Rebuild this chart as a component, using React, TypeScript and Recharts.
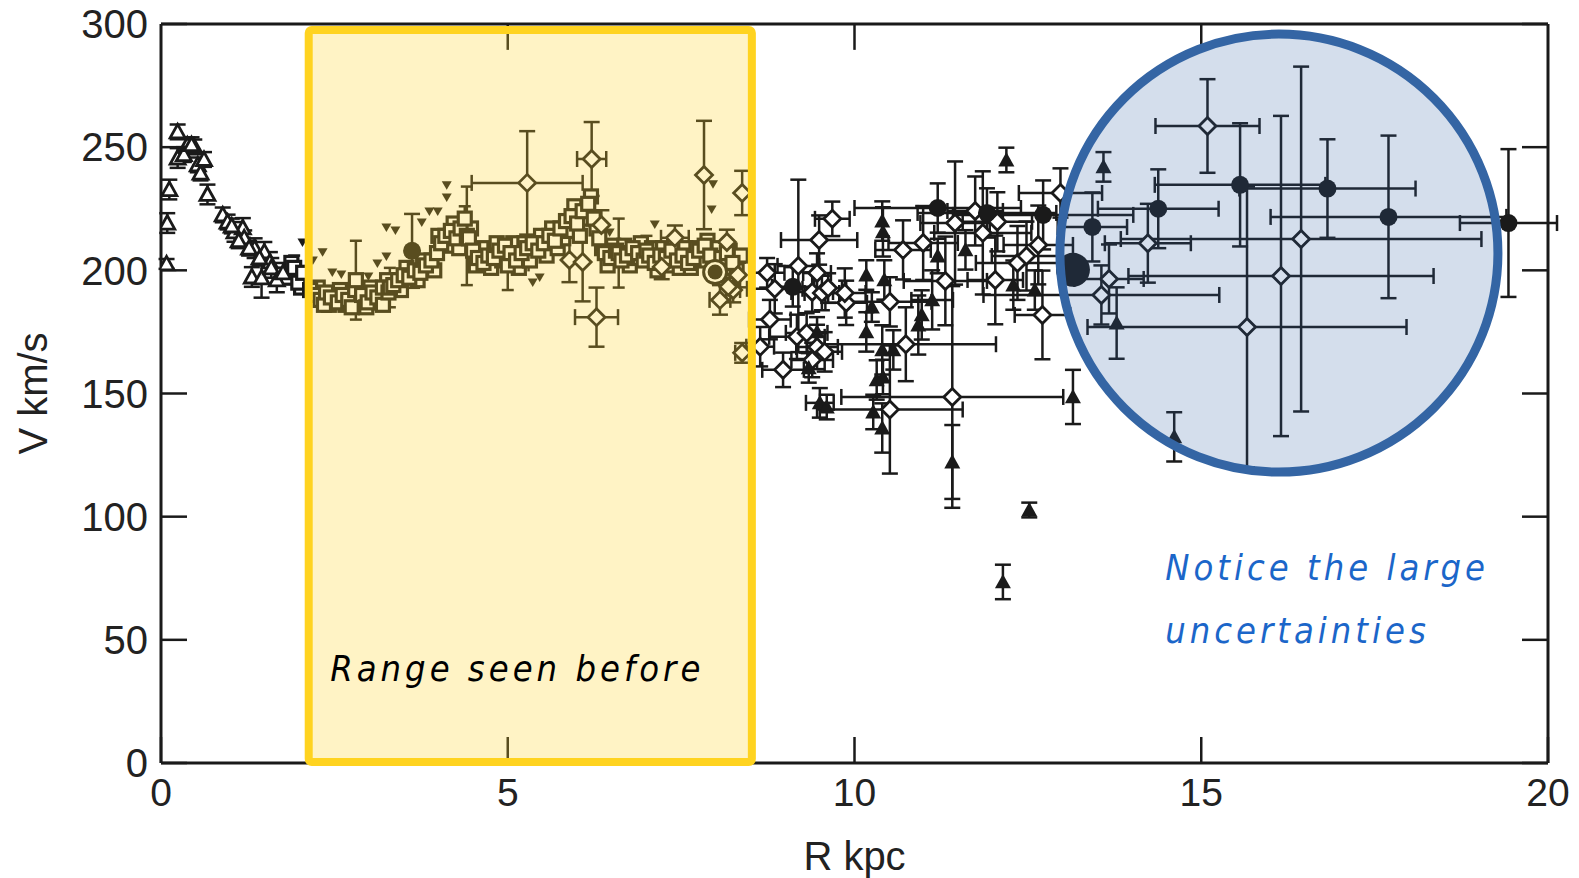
import React from "react";
import {
  ScatterChart,
  Scatter,
  XAxis,
  YAxis,
  ErrorBar,
  ReferenceArea,
  ReferenceDot,
  ReferenceLine,
} from "recharts";

// each point: [R kpc, V km/s, x error, y error]
type Pt = [number, number, number?, number?];

const X_TICKS = [0, 5, 10, 15, 20];
const Y_TICKS = [0, 50, 100, 150, 200, 250, 300];

// inner HI terminal velocities (open triangles)
const innerTriangles: Pt[] = [
  [0.24, 256.2, 0, 3], [0.38, 250.9, 0, 3], [0.48, 250.1, 0, 3], [0.24, 245.6, 0, 4],
  [0.53, 242.8, 0, 3], [0.57, 239.5, 0, 3], [0.12, 232.8, 0, 4], [0.67, 230.8, 0, 4],
  [0.09, 219.2, 0, 4], [0.89, 222.5, 0, 3], [0.96, 219.6, 0, 3], [1.06, 215.6, 0, 4],
  [1.18, 217.2, 0, 4], [1.2, 213.2, 0, 3], [1.35, 209, 0, 4], [1.49, 207.5, 0, 4],
  [1.57, 203.4, 0, 4], [1.31, 197.3, 0, 4], [1.45, 196.9, 0, 8], [1.59, 201, 0, 4],
  [1.67, 196.1, 0, 5], [0.08, 202.6, 0, 2], [0.33, 247, 0, 3], [0.44, 251, 0, 3],
  [0.62, 245, 0, 3], [1.02, 218, 0, 3], [1.12, 212, 0, 3], [1.27, 209, 0, 3],
  [1.42, 205, 0, 3], [1.76, 199, 0, 4],
];

// CO / HII disk points (open squares), main row
const squares: Pt[] = [
  [1.83, 197], [1.92, 201, 0, 5], [1.98, 195], [2.05, 199], [2.15, 192], [2.22, 190],
  [2.3, 188], [2.35, 186], [2.38, 191], [2.45, 189], [2.55, 187], [2.62, 190], [2.7, 188],
  [2.75, 185], [2.8, 192], [2.81, 196, 0, 16], [2.9, 190], [2.96, 185], [2.98, 187],
  [3.05, 191], [3.12, 189], [3.2, 193], [3.2, 186], [3.28, 191], [3.3, 193, 0, 8],
  [3.35, 194], [3.42, 196], [3.5, 198], [3.58, 197], [3.66, 200], [3.74, 199], [3.82, 202],
  [3.9, 204], [3.98, 207], [4.04, 211], [4.1, 214], [4.18, 216], [4.26, 213], [4.32, 217],
  [4.38, 221, 0, 5], [4.41, 214, 0, 20], [4.44, 213], [4.5, 208], [4.57, 205], [4.65, 203],
  [4.72, 206], [4.8, 205], [4.88, 208], [4.96, 210], [5.0, 202, 0.3, 10], [5.04, 207],
  [5.12, 204], [5.2, 207], [5.28, 209], [5.36, 211], [5.44, 208], [5.52, 211], [5.6, 214],
  [5.68, 212], [5.76, 217], [5.84, 220], [5.92, 222], [6.0, 219], [6.08, 224], [6.16, 227],
  [6.24, 221], [6.32, 213], [6.4, 207], [6.48, 205], [6.56, 208], [6.6, 207, 0, 14],
  [6.64, 204], [6.72, 206], [6.8, 209], [6.88, 207], [6.96, 204], [7.0, 208, 0.2, 6],
  [7.04, 206], [7.12, 203], [7.2, 206], [7.28, 205], [7.36, 208], [7.44, 204], [7.52, 206],
  [7.6, 203], [7.68, 205], [7.76, 208], [7.84, 210], [7.92, 206], [8.08, 205], [8.16, 207],
  [8.24, 203],
];

// open squares, scattered second row around the main one
const squaresSpread: Pt[] = [
  [1.88, 203], [2.02, 193], [2.26, 193], [2.42, 186], [2.58, 192], [2.66, 186], [2.86, 188],
  [3.02, 193], [3.16, 187], [3.26, 196], [3.46, 192], [3.54, 201], [3.7, 196], [3.78, 204],
  [3.94, 200], [4.0, 214], [4.14, 210], [4.22, 219], [4.3, 209], [4.47, 217], [4.54, 202],
  [4.62, 209], [4.76, 201], [4.84, 211], [4.92, 204], [5.08, 211], [5.16, 201], [5.24, 211],
  [5.32, 204], [5.48, 214], [5.56, 206], [5.64, 217], [5.72, 209], [5.8, 213], [5.88, 216],
  [5.96, 226], [6.04, 214], [6.12, 221], [6.2, 230], [6.28, 217], [6.36, 209], [6.44, 202],
  [6.52, 210], [6.68, 210], [6.76, 202], [6.84, 205], [6.92, 211], [7.08, 209], [7.16, 200],
  [7.24, 209], [7.32, 202], [7.4, 210], [7.48, 201], [7.56, 209], [7.64, 201], [7.72, 209],
  [7.8, 204], [7.88, 212], [7.96, 203], [8.04, 209], [8.12, 201], [8.2, 208], [8.3, 200],
  [8.36, 206],
];

// small filled inverted triangles
const downTriangles: Pt[] = [
  [2.04, 211.5], [2.19, 204.2], [2.33, 207.5], [2.47, 199.3], [2.6, 198.5], [2.99, 197.7],
  [3.12, 203], [3.25, 205.8], [3.25, 217.6], [3.38, 216.4], [3.76, 219.6], [3.87, 224.1],
  [3.99, 224.1], [4.12, 234.7], [4.12, 229.8], [5.36, 195.3], [5.46, 197.3], [6.47, 215.6],
  [7.12, 218.8], [7.94, 224.9], [7.96, 235.1],
];

// open diamonds with x/y errors
const diamonds: Pt[] = [
  [5.28, 235.5, 0.8, 21], [6.21, 245.2, 0.21, 15], [7.83, 238.7, 0, 22], [8.38, 231.4, 0, 9],
  [6.28, 181, 0.31, 12], [5.89, 204.2, 0, 9], [6.08, 203.4, 0, 16], [6.35, 218.4, 0, 6],
  [7.41, 213.2, 0.2, 5], [7.22, 201.4, 0, 5], [8.16, 211.5, 0, 5], [8.06, 188, 0.15, 6],
  [8.25, 192, 0.1, 5], [8.32, 198.1, 0, 5], [8.18, 193.3], [8.38, 166.5, 0.1, 4],
  [8.74, 199, 0.25, 6], [8.85, 192.5, 0.4, 10], [8.78, 180, 0.3, 8], [8.97, 159.6, 0.3, 7],
  [9.19, 201.8, 0.3, 35], [9.46, 198.9, 0.2, 8], [9.49, 212.3, 0.55, 10], [9.68, 220.9, 0.25, 7],
  [9.39, 191.2, 0.3, 8], [9.53, 190.8, 0.25, 7], [9.62, 192.8, 0.2, 6], [9.88, 186.8, 0.3, 9],
  [9.86, 190.8, 0.3, 10], [9.17, 173, 0.4, 9], [9.31, 174.6, 0.3, 8], [9.46, 168.9, 0.3, 9],
  [9.57, 166.9, 0.25, 8], [9.39, 163.6, 0.3, 7], [8.64, 169, 0.2, 8], [10.51, 187.2, 0.6, 10],
  [10.74, 170, 1.3, 15], [10.7, 208.3, 0.4, 12], [10.99, 211.1, 0.5, 15], [11.31, 195.7, 0.6, 18],
  [11.45, 219.2, 0.5, 25], [11.74, 224.1, 0.4, 14], [11.85, 215.2, 0.7, 25], [12.06, 219.7, 0.5, 12],
  [12.03, 196.1, 0.4, 18], [12.35, 203, 0.6, 15], [12.48, 205.8, 0.5, 14], [12.65, 210.3, 0.5, 16],
  [12.71, 181.9, 0.4, 18], [12.97, 231.4, 0.6, 10], [11.41, 148.6, 1.6, 45], [10.51, 143.5, 1.05, 26],
  [15.09, 258.6, 0.75, 19], [16.44, 212.7, 2.6, 70], [16.15, 197.7, 2.2, 65], [15.66, 177, 2.3, 57],
  [14.23, 211, 0.62, 16], [13.67, 196.5, 0.5, 14], [13.56, 190, 1.7, 12],
];

// filled triangles
const filledTriangles: Pt[] = [
  [10.41, 215.6, 0, 10], [10.43, 196.1, 0, 8], [10.17, 198.1, 0, 6], [11.12, 188, 0.3, 12],
  [10.97, 181.9, 0, 10], [10.92, 177.8, 0, 12], [11.6, 208.3, 0, 8], [11.2, 205.8, 0, 7],
  [12.29, 194, 0, 10], [12.6, 192, 0, 8], [10.17, 175, 0, 8], [10.4, 167.7, 0, 10],
  [10.56, 167.7, 0, 8], [9.34, 160.4, 0, 6], [9.46, 175, 0, 6], [9.5, 146.2, 0.2, 6],
  [9.6, 144.5, 0, 5], [10.32, 155.5, 0, 8], [10.41, 156.7, 0, 7], [10.27, 142.5, 0, 7],
  [10.4, 136, 0, 10], [13.15, 148.6, 0, 11], [12.19, 244.8, 0, 5], [13.59, 242, 0, 6],
  [13.78, 178.6, 0, 14.5], [14.61, 132.4, 0, 10], [12.52, 102.7, 0, 3], [12.14, 73.5, 0, 7],
  [11.41, 122.2, 0, 15], [10.25, 185.1, 0, 6], [10.4, 220, 0, 8],
];

// filled circles
const filledCircles: Pt[] = [
  [3.62, 207.9, 0, 15], [9.11, 193.3, 0.3, 8], [11.2, 225.3, 1.2, 10], [11.91, 223.3, 1.0, 10],
  [12.72, 222.5, 1.3, 14], [13.43, 217.6, 0.5, 14], [14.38, 225, 0.87, 16], [15.56, 234.7, 1.23, 25],
  [16.82, 233.2, 1.27, 20], [17.7, 221.7, 1.7, 33], [19.43, 219.2, 0.7, 30],
];

const bigCircle: Pt[] = [[13.15, 200.2]];
const sun: Pt[] = [[7.99, 199.3]];

const toRows = (pts: Pt[]) =>
  pts.map(([x, y, ex, ey]) => ({ x, y, ex: ex || undefined, ey: ey || undefined }));

const INK = "#1a1a1a";
const FONT = "'Liberation Sans', Arial, sans-serif";
const HAND = "'DejaVu Sans Condensed', 'DejaVu Sans', sans-serif";
const TICK_LEN = 10.5; // inward tick length along the top frame, in km/s

function OpenTriangle(p: any) {
  const { cx, cy } = p;
  const s = 7.5;
  return (
    <polygon
      points={`${cx},${cy - s} ${cx + s},${cy + s * 0.8} ${cx - s},${cy + s * 0.8}`}
      fill="#fff"
      stroke={INK}
      strokeWidth={2.8}
    />
  );
}

function OpenSquare(p: any) {
  const { cx, cy } = p;
  return <rect x={cx - 6.5} y={cy - 6.5} width={13} height={13} fill="#fff" stroke={INK} strokeWidth={3.2} />;
}

function DownTriangle(p: any) {
  const { cx, cy } = p;
  const s = 5;
  return <polygon points={`${cx - s},${cy - s * 0.7} ${cx + s},${cy - s * 0.7} ${cx},${cy + s}`} fill={INK} />;
}

function OpenDiamond(p: any) {
  const { cx, cy } = p;
  const s = 8.5;
  return (
    <polygon
      points={`${cx},${cy - s} ${cx + s},${cy} ${cx},${cy + s} ${cx - s},${cy}`}
      fill="#fff"
      stroke={INK}
      strokeWidth={2.8}
    />
  );
}

function FilledTriangle(p: any) {
  const { cx, cy } = p;
  const s = 8;
  return <polygon points={`${cx},${cy - s} ${cx + s},${cy + s * 0.8} ${cx - s},${cy + s * 0.8}`} fill={INK} />;
}

function FilledCircle(p: any) {
  return <circle cx={p.cx} cy={p.cy} r={9} fill={INK} />;
}

function BigCircle(p: any) {
  return <circle cx={p.cx} cy={p.cy} r={17} fill={INK} />;
}

function SunMark(p: any) {
  return (
    <g>
      <circle cx={p.cx} cy={p.cy} r={13} fill={INK} />
      <circle cx={p.cx} cy={p.cy} r={10} fill="#fff" />
      <circle cx={p.cx} cy={p.cy} r={7.5} fill={INK} />
    </g>
  );
}

const NoTick = () => null;

const errX = (w = 8) => (
  <ErrorBar dataKey="ex" direction="x" width={w} stroke={INK} strokeWidth={2.5} />
);
const errY = (w = 8) => (
  <ErrorBar dataKey="ey" direction="y" width={w} stroke={INK} strokeWidth={2.5} />
);

const handLabel = (value: string, color: string) => ({
  value,
  position: "right" as const,
  offset: 0,
  fontSize: 36,
  fill: color,
  fontFamily: HAND,
  fontStyle: "italic",
  style: { letterSpacing: "4px" },
});

export default function App() {
  return (
    <div style={{ position: "fixed", left: 0, top: 0, width: 1579, height: 878, background: "#fff" }}>
      <ScatterChart width={1579} height={878} margin={{ top: 23, right: 30, bottom: 5, left: 0 }}>
        <XAxis
          type="number"
          dataKey="x"
          domain={[0, 20]}
          allowDataOverflow
          ticks={X_TICKS}
          height={110}
          tickSize={-26}
          tickMargin={41}
          axisLine={{ stroke: INK, strokeWidth: 3 }}
          tickLine={{ stroke: INK, strokeWidth: 2.5 }}
          tick={{ fontSize: 39, fill: "#222", fontFamily: FONT }}
          label={{ value: "R kpc", position: "insideBottom", offset: 3, fontSize: 40, fill: "#222", fontFamily: FONT }}
        />
        <XAxis
          xAxisId="top"
          orientation="top"
          type="number"
          domain={[0, 20]}
          allowDataOverflow
          ticks={X_TICKS}
          height={1}
          tickLine={false}
          tick={NoTick}
          axisLine={{ stroke: INK, strokeWidth: 3 }}
        />
        <YAxis
          type="number"
          dataKey="y"
          domain={[0, 300]}
          allowDataOverflow
          ticks={Y_TICKS}
          width={161}
          tickSize={-26}
          tickMargin={39}
          axisLine={{ stroke: INK, strokeWidth: 3 }}
          tickLine={{ stroke: INK, strokeWidth: 2.5 }}
          tick={{ fontSize: 40, fill: "#222", fontFamily: FONT }}
          label={{
            value: "V km/s",
            angle: -90,
            position: "insideLeft",
            offset: 33,
            fontSize: 40,
            fill: "#222",
            fontFamily: FONT,
            style: { textAnchor: "middle" },
          }}
        />
        <YAxis
          yAxisId="right"
          orientation="right"
          type="number"
          domain={[0, 300]}
          allowDataOverflow
          ticks={Y_TICKS}
          width={1}
          tickSize={-26}
          tick={NoTick}
          axisLine={{ stroke: INK, strokeWidth: 3 }}
          tickLine={{ stroke: INK, strokeWidth: 2.5 }}
        />

        {X_TICKS.slice(1, -1).map((t) => (
          <ReferenceLine
            key={t}
            segment={[{ x: t, y: 300 }, { x: t, y: 300 - TICK_LEN }]}
            stroke={INK}
            strokeWidth={2.5}
            ifOverflow="visible"
          />
        ))}

        <Scatter data={toRows(squaresSpread)} shape={OpenSquare} isAnimationActive={false} />
        <Scatter data={toRows(squares)} shape={OpenSquare} isAnimationActive={false}>
          {errX(6)}
          {errY(6)}
        </Scatter>
        <Scatter data={toRows(innerTriangles)} shape={OpenTriangle} isAnimationActive={false}>
          {errY(8)}
        </Scatter>
        <Scatter data={toRows(downTriangles)} shape={DownTriangle} isAnimationActive={false} />
        <Scatter data={toRows(diamonds)} shape={OpenDiamond} isAnimationActive={false}>
          {errX()}
          {errY()}
        </Scatter>
        <Scatter data={toRows(filledTriangles)} shape={FilledTriangle} isAnimationActive={false}>
          {errX()}
          {errY()}
        </Scatter>
        <Scatter data={toRows(filledCircles)} shape={FilledCircle} isAnimationActive={false}>
          {errX()}
          {errY()}
        </Scatter>
        <Scatter data={toRows(bigCircle)} shape={BigCircle} isAnimationActive={false} />
        <Scatter data={toRows(sun)} shape={SunMark} isAnimationActive={false} />

        <ReferenceArea
          x1={2.13}
          x2={8.52}
          y1={0.4}
          y2={297.6}
          fill="#FFD330"
          fillOpacity={0.28}
          stroke="#FFD320"
          strokeWidth={8}
          radius={3}
          zIndex={1500}
        />
        <ReferenceDot
          x={16.12}
          y={207}
          r={219}
          fill="#3465A4"
          fillOpacity={0.21}
          stroke="#3465A4"
          strokeWidth={9}
          zIndex={1500}
        />
        <ReferenceDot x={2.44} y={38.6} r={0} fill="none" stroke="none" zIndex={2000}
          label={handLabel("Range seen before", "#000")} />
        <ReferenceDot x={14.48} y={79.6} r={0} fill="none" stroke="none" zIndex={2000}
          label={handLabel("Notice the large", "#1B66C9")} />
        <ReferenceDot x={14.48} y={53.8} r={0} fill="none" stroke="none" zIndex={2000}
          label={handLabel("uncertainties", "#1B66C9")} />
      </ScatterChart>
    </div>
  );
}
